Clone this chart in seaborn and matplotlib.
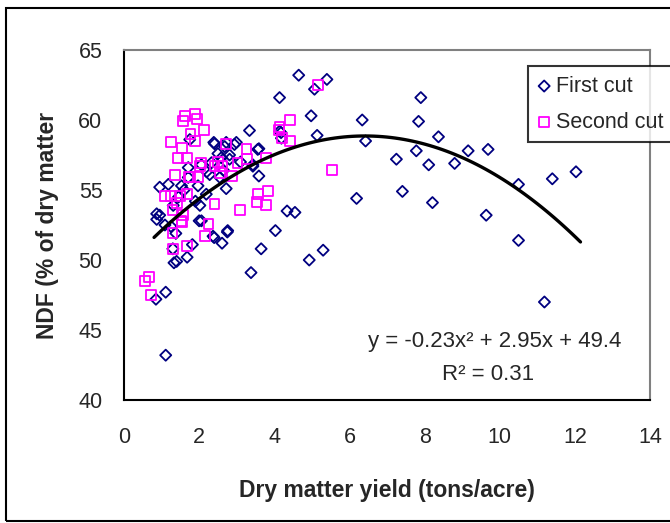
import numpy as np
import pandas as pd
import matplotlib
matplotlib.use("Agg")
import matplotlib.pyplot as plt
import seaborn as sns
from matplotlib.patches import Rectangle

# First cut (navy diamonds): dry matter yield vs NDF
first_x = [4.65, 5.40, 5.07, 4.14, 7.90, 4.98, 6.34, 7.84, 4.14, 5.14, 4.19, 6.43, 8.37,
           9.16, 9.69, 7.78, 7.25, 8.11, 8.80, 10.5, 7.41, 6.19, 8.21, 4.34, 4.55, 9.64,
           10.5, 4.03, 5.30, 4.93, 11.4, 12.03, 11.19, 1.11, 0.85, 1.11, 3.38, 3.65, 1.33,
           1.40, 1.68, 1.30, 1.82, 1.38, 2.06, 2.40, 2.61, 2.76, 1.09, 0.87,
           3.34, 1.75, 2.41, 2.94, 2.68, 3.59, 2.06, 2.33, 2.59, 2.81, 1.71, 3.43, 3.59,
           2.28, 2.55, 1.71, 1.18, 0.95, 1.53, 1.97, 2.72, 2.19, 1.31, 2.02, 0.87, 0.95,
           2.00, 2.75, 2.37, 2.39, 2.72, 2.99, 3.56, 4.18, 2.81, 3.43, 1.60, 1.45, 2.20,
           2.50, 1.90, 1.25, 2.65, 3.10]
first_y = [63.2, 62.9, 62.2, 61.6, 61.6, 60.3, 60.0, 59.9, 59.2, 58.9, 58.7, 58.5, 58.8,
           57.8, 57.9, 57.8, 57.2, 56.8, 56.9, 55.4, 54.9, 54.4, 54.1, 53.5, 53.4, 53.2,
           51.4, 52.1, 50.7, 50.0, 55.8, 56.3, 47.0, 43.2, 47.2, 47.7, 49.1, 50.8, 49.8,
           49.9, 50.2, 50.8, 51.1, 51.9, 52.8, 51.6, 51.2, 52.1, 52.5, 52.9,
           59.25, 58.6, 58.3, 58.25, 58.1, 57.95, 56.8, 56.95, 57.3, 57.2, 56.6, 56.7, 56.0,
           56.1, 55.9, 55.9, 55.4, 55.2, 55.3, 55.3, 55.1, 54.7, 53.9, 53.9, 53.3, 53.2,
           52.8, 52.0, 51.7, 58.4, 58.4, 58.4, 57.9, 59.1, 57.5, 56.8, 55.0, 54.5, 56.3,
           57.6, 54.2, 52.4, 56.4, 57.0]

# Second cut (magenta squares)
second_x = [5.16, 4.42, 4.14, 4.42, 5.53, 0.56, 0.66, 0.72, 1.30, 1.67, 1.29, 1.54, 2.15,
            2.25, 1.62, 1.88, 1.94, 1.56, 2.14, 1.77, 1.88, 1.25, 1.55, 2.72, 3.26, 1.44,
            1.68, 2.04, 2.41, 2.60, 3.02, 3.28, 3.78, 1.35, 1.75, 1.97, 2.55, 2.88, 1.09,
            1.26, 1.49, 1.68, 1.40, 1.29, 2.41, 3.09, 3.56, 3.83, 3.54, 3.78, 1.53, 1.56,
            4.12, 4.21, 2.50, 1.73, 2.02]
second_y = [62.5, 60.0, 59.5, 58.5, 56.4, 48.5, 48.8, 47.5, 50.8, 51.0, 51.9, 52.7, 51.7,
            52.6, 60.3, 60.4, 60.1, 59.9, 59.3, 59.0, 58.5, 58.4, 58.0, 58.3, 57.9, 57.3,
            57.3, 56.9, 56.7, 56.7, 56.9, 57.2, 57.3, 56.05, 55.9, 55.9, 56.2, 56.0, 54.6,
            54.6, 54.6, 54.7, 54.1, 53.6, 54.0, 53.6, 54.7, 54.9, 54.15, 53.9, 52.8, 53.2,
            59.3, 58.7, 57.0, 55.9, 56.7]

# polynomial trendline shown on the chart: y = -0.23x^2 + 2.95x + 49.4
trend_coef = [-0.23, 2.95, 49.4]
trend_range = [0.8, 12.15]

x_ticks = [0, 2, 4, 6, 8, 10, 12, 14]
y_ticks = [40, 45, 50, 55, 60, 65]

sns.set_style("white")
plt.rcParams["font.family"] = ["Liberation Sans", "DejaVu Sans"]

fig = plt.figure(figsize=(6.7, 5.23), dpi=100)
ax = fig.add_axes([124 / 670, 1 - 400 / 523, (650 - 124) / 670, 350 / 523])

sns.scatterplot(x=first_x, y=first_y, marker="D", s=32, color="#000080",
                facecolors="none", edgecolor="#000080", linewidth=1.3,
                label="First cut", ax=ax, zorder=3)
sns.scatterplot(x=second_x, y=second_y, marker="s", s=50, color="#FF00FF",
                facecolors="none", edgecolor="#FF00FF", linewidth=1.3,
                label="Second cut", ax=ax, zorder=3)

tx = np.linspace(trend_range[0], trend_range[1], 100)
ty = np.polyval(trend_coef, tx)
sns.lineplot(x=tx, y=ty, color="black", linewidth=2.4, ax=ax, zorder=4, legend=False)

ax.set_xlim(0, 14)
ax.set_ylim(40, 65)
ax.set_xticks(x_ticks)
ax.set_yticks(y_ticks)
ax.tick_params(axis="both", labelsize=15.5, length=5.5, width=1.3, direction="out",
               color="black")
ax.tick_params(axis="y", pad=10)
ax.tick_params(axis="x", pad=14)

for side in ["left", "bottom"]:
    ax.spines[side].set_color("black")
    ax.spines[side].set_linewidth(1.5)
for side in ["top", "right"]:
    ax.spines[side].set_color("#808080")
    ax.spines[side].set_linewidth(1.5)

ax.set_xlabel("Dry matter yield (tons/acre)", fontsize=16.5, fontweight="bold", labelpad=22)
ax.set_ylabel("NDF (% of dry matter", fontsize=16.5, fontweight="bold", labelpad=14)

ax.text(9.87, 44.15, "y = -0.23x² + 2.95x + 49.4", fontsize=16, ha="center", va="center")
ax.text(9.68, 41.8, "R² = 0.31", fontsize=16, ha="center", va="center")

leg = ax.legend(loc="upper left", bbox_to_anchor=(528 / 670, 1 - 66 / 523),
                bbox_transform=fig.transFigure, fontsize=15.5, frameon=True,
                fancybox=False, edgecolor="black", borderpad=0.45,
                handletextpad=0.25, handlelength=0.6, labelspacing=0.7,
                borderaxespad=0)
leg.get_frame().set_linewidth(1.5)

# outer chart border
fig.patches.append(Rectangle((6 / 670, 1 - 521 / 523), 1.0, 513 / 523,
                             transform=fig.transFigure, fill=False,
                             edgecolor="black", linewidth=1.5))

fig.savefig("out.png", dpi=100)
